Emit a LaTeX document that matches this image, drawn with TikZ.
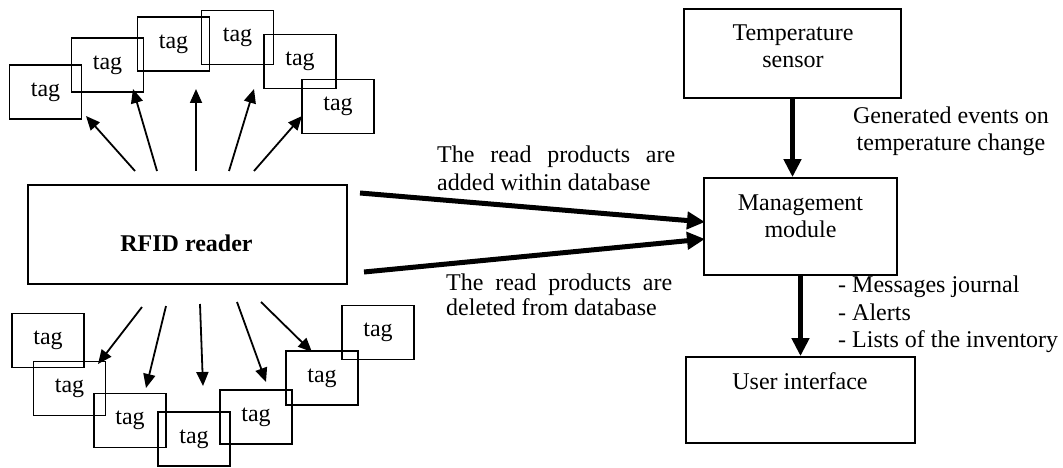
\documentclass[tikz,border=0pt]{standalone}
\usepackage{fontspec}
\setmainfont{Liberation Serif}
\usetikzlibrary{arrows.meta}
\begin{document}
\begin{tikzpicture}[x=1pt,y=-1pt,
  every node/.style={font=\fontsize{24}{27}\selectfont},
  tagbox/.style={draw,line width=1.8pt,minimum width=72pt,minimum height=54pt,inner sep=0pt},
  bigbox/.style={draw,line width=1.8pt,inner sep=0pt},
  txt/.style={inner sep=0pt},
  thinarrow/.style={line width=1.8pt,-{Triangle[length=14pt,width=12pt]}},
  thickarrow/.style={line width=5pt,-{Triangle[length=18pt,width=17pt]}}]
\useasboundingbox (0,0) rectangle (1063,468);

% top tags
\node[tagbox] (t1) at (45.5,92) {tag};
\node[tagbox] (t2) at (107.5,65) {tag};
\node[tagbox] (t3) at (173.5,44) {tag};
\node[tagbox] (t4) at (237.5,37.5) {tag};
\node[tagbox] (t5) at (300,61.5) {tag};
\node[tagbox] (t6) at (338,106.5) {tag};
% bottom tags
\node[tagbox] (b1) at (48,340.5) {tag};
\node[tagbox] (b2) at (69.5,388.5) {tag};
\node[tagbox] (b3) at (130,420.5) {tag};
\node[tagbox] (b4) at (194,439) {tag};
\node[tagbox] (b5) at (256,417) {tag};
\node[tagbox] (b6) at (322,378) {tag};
\node[tagbox] (b7) at (378,332.5) {tag};

% RFID reader
\node[bigbox,minimum width=319pt,minimum height=99pt] (rfid) at (187.5,234.5) {};
\node[txt,anchor=base] (rfidtxt) at (186.5,251) {\bfseries RFID reader};

% right boxes
\node[bigbox,minimum width=217pt,minimum height=89pt] (temp) at (792.5,53.5) {};
\node[txt,anchor=base] (tempa) at (793,41) {Temperature};
\node[txt,anchor=base] (tempb) at (793,68) {sensor};
\node[bigbox,minimum width=193pt,minimum height=97pt] (mgmt) at (800.5,226.5) {};
\node[txt,anchor=base] (mgmta) at (800.5,210) {Management};
\node[txt,anchor=base] (mgmtb) at (800.5,237) {module};
\node[bigbox,minimum width=229pt,minimum height=86pt] (ui) at (800.5,400) {};
\node[txt,anchor=base] (uia) at (800,389) {User interface};

% top thin arrows
\coordinate (us1) at (135,171); \coordinate (ue1) at (86,116);
\coordinate (us2) at (157,171); \coordinate (ue2) at (133,89);
\coordinate (us3) at (196,171); \coordinate (ue3) at (196,89);
\coordinate (us4) at (229,171); \coordinate (ue4) at (254,89);
\coordinate (us5) at (254,171); \coordinate (ue5) at (302,116);
\foreach \i in {1,...,5} \draw[thinarrow] (us\i) -- (ue\i);

% bottom thin arrows
\coordinate (ds1) at (142,307); \coordinate (de1) at (98,364);
\coordinate (ds2) at (166,306); \coordinate (de2) at (146,388);
\coordinate (ds3) at (200,304); \coordinate (de3) at (203,386);
\coordinate (ds4) at (237,302); \coordinate (de4) at (266,382);
\coordinate (ds5) at (261,302); \coordinate (de5) at (312,352);
\foreach \i in {1,...,5} \draw[thinarrow] (ds\i) -- (de\i);

% thick arrows to management
\coordinate (h1s) at (360,193); \coordinate (h1e) at (705,222);
\coordinate (h2s) at (364,272); \coordinate (h2e) at (705,239);
\draw[thickarrow] (h1s) -- (h1e);
\draw[thickarrow] (h2s) -- (h2e);
\draw[thickarrow] (temp.south) -- (temp.south |- mgmt.north);
\draw[thickarrow] (mgmt.south) -- (mgmt.south |- ui.north);

% labels
\node[txt,anchor=base west] (la1) at (437,163) {\makebox[238pt][s]{The read products are}};
\node[txt,anchor=base west] (la2) at (437,190) {added within database};
\node[txt,anchor=base west] (lb1) at (446,290) {\makebox[226pt][s]{The read products are}};
\node[txt,anchor=base west] (lb2) at (446,315) {deleted from database};
\node[txt,anchor=base] (lg1) at (951,124) {Generated events on};
\node[txt,anchor=base] (lg2) at (951,151) {temperature change};
\node[txt,anchor=base west] (lm1) at (838,292) {- Messages journal};
\node[txt,anchor=base west] (lm2) at (838,320) {- Alerts};
\node[txt,anchor=base west] (lm3) at (838,347) {- Lists of the inventory};
\end{tikzpicture}
\end{document}
